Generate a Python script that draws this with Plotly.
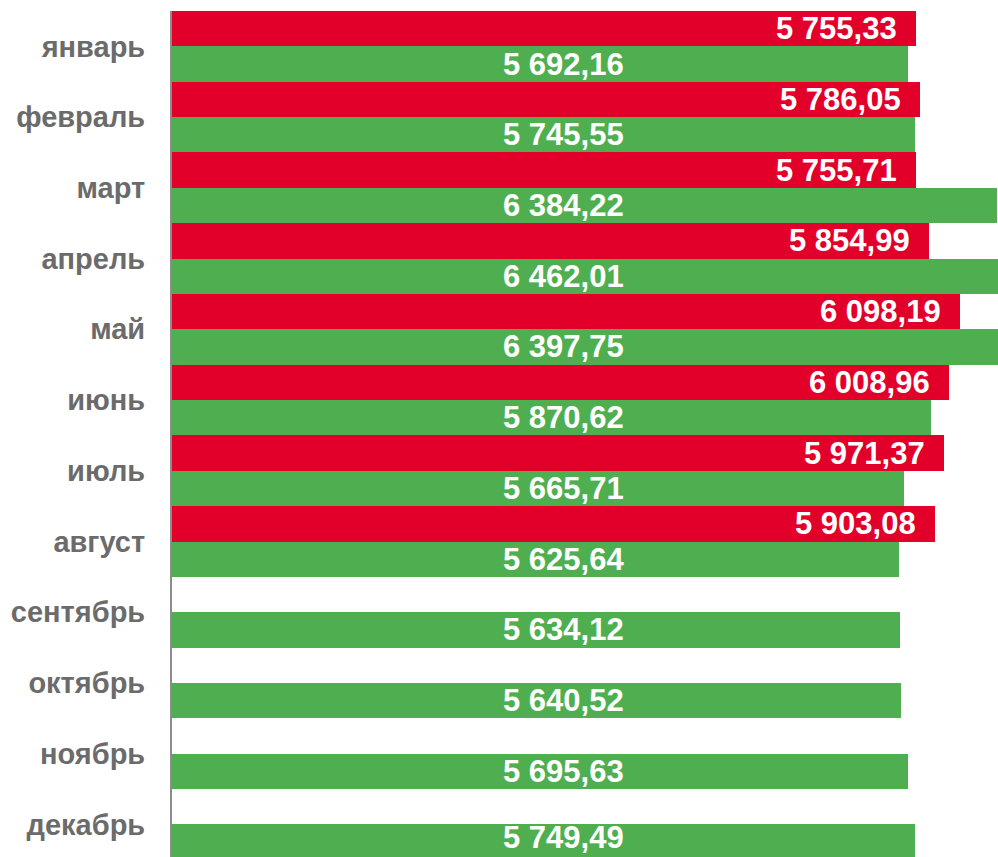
import plotly.graph_objects as go

months = ["январь", "февраль", "март", "апрель", "май", "июнь", "июль",
          "август", "сентябрь", "октябрь", "ноябрь", "декабрь"]
red_values = [5755.33, 5786.05, 5755.71, 5854.99, 6098.19, 6008.96, 5971.37, 5903.08]
green_values = [5692.16, 5745.55, 6384.22, 6462.01, 6397.75, 5870.62, 5665.71,
                5625.64, 5634.12, 5640.52, 5695.63, 5749.49]

RED = "#E2002A"
GREEN = "#4FAF50"
X_MAX = 6390
GREEN_LABEL_X = 3030

W, H = 998, 857
M_L, M_T = 172, 11
Y_RANGE = [11.46, -0.5]
plot_h = H - M_T
row_px = plot_h / (Y_RANGE[0] - Y_RANGE[1])
half_bar = row_px / 4


def fmt(v):
    s = f"{v:,.2f}"
    return s.replace(",", " ").replace(".", ",")


fig = go.Figure()
fig.add_trace(go.Bar(y=months[:len(red_values)], x=red_values, orientation="h",
                     marker=dict(color=RED, line=dict(width=0)), name="red"))
fig.add_trace(go.Bar(y=months, x=green_values, orientation="h",
                     marker=dict(color=GREEN, line=dict(width=0)), name="green"))

label_font = dict(family="Liberation Sans", size=31, color="white", weight="bold")
annotations = []
for m, v in zip(months, red_values):
    annotations.append(dict(x=v, y=m, text=fmt(v), showarrow=False, xanchor="right",
                            xshift=-17, yshift=half_bar, font=label_font))
for i, (m, v) in enumerate(zip(months, green_values)):
    # keep the label inside the visible plot area
    center_px = (i - Y_RANGE[1]) * row_px + half_bar
    overflow = max(0, center_px + 19 - plot_h)
    annotations.append(dict(x=GREEN_LABEL_X, y=m, text=fmt(v), showarrow=False,
                            xanchor="center", yshift=-half_bar + overflow, font=label_font))

fig.update_layout(
    width=W, height=H,
    margin=dict(l=M_L, r=0, t=M_T, b=0),
    barmode="group", bargap=0, bargroupgap=0,
    showlegend=False,
    plot_bgcolor="white", paper_bgcolor="white",
    annotations=annotations,
)
fig.update_xaxes(range=[0, X_MAX], visible=False, showgrid=False, zeroline=False)
fig.update_yaxes(type="category", categoryorder="array", categoryarray=months,
                 range=Y_RANGE, showgrid=False, zeroline=False,
                 showline=True, linecolor="#8C8C8C", linewidth=2,
                 ticks="", ticklabelstandoff=19,
                 tickfont=dict(family="Liberation Sans", size=29, color="#6B6B6B", weight="bold"))

fig.write_html("out.html", config={"displayModeBar": False},
               post_script="document.body.style.margin='0';document.body.style.overflow='hidden';")
